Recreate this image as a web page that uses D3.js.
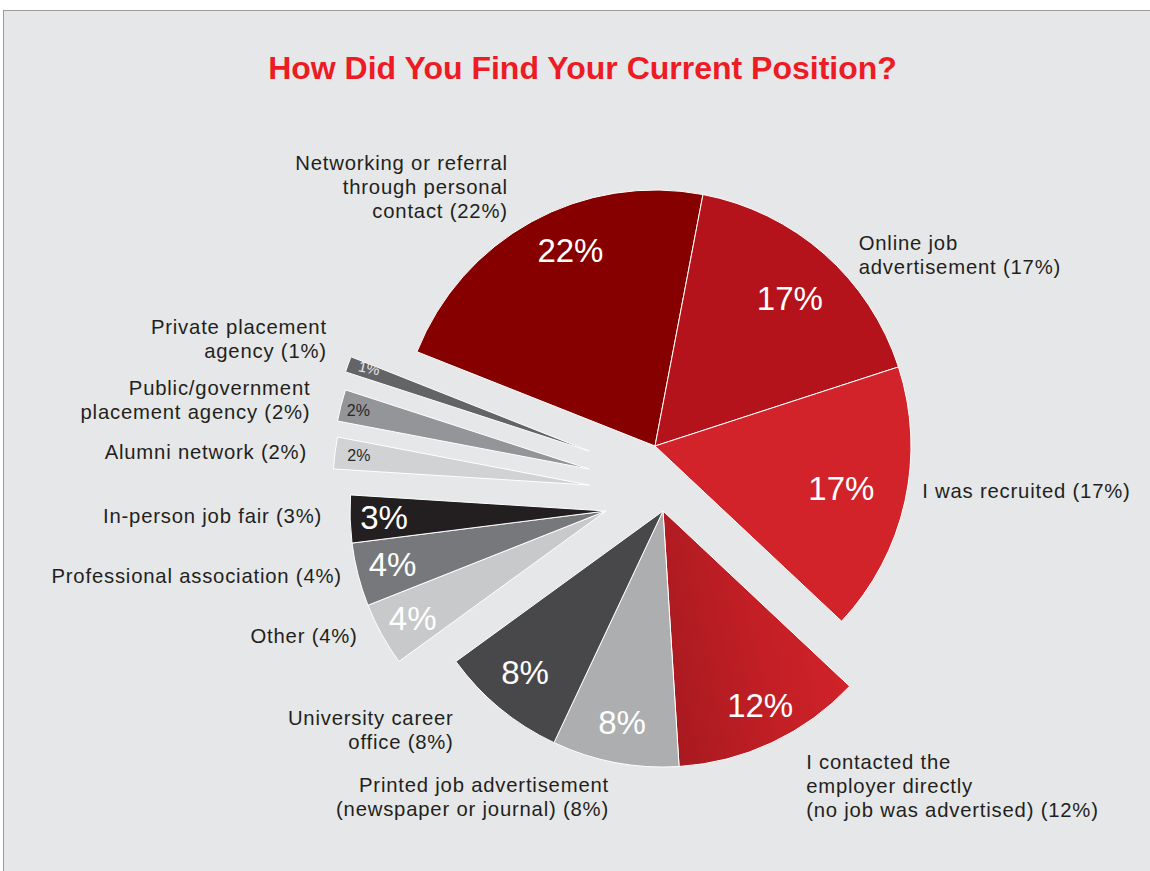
<!DOCTYPE html>
<html>
<head>
<meta charset="utf-8">
<script src="https://cdn.jsdelivr.net/npm/d3@7"></script>
<style>
  html, body { margin: 0; padding: 0; background: #ffffff; }
  svg { display: block; font-family: "Liberation Sans", Arial, Helvetica, sans-serif; }
</style>
</head>
<body>
<svg id="chart" width="1150" height="871"></svg>
<script>
// Survey answers, clockwise from the top-left slice
const categories = [
  "Networking or referral through personal contact",
  "Online job advertisement",
  "I was recruited",
  "I contacted the employer directly (no job was advertised)",
  "Printed job advertisement (newspaper or journal)",
  "University career office",
  "Other",
  "Professional association",
  "In-person job fair",
  "Alumni network",
  "Public/government placement agency",
  "Private placement agency"
];
const values = [22, 17, 17, 12, 8, 8, 4, 4, 3, 2, 2, 1];

// Outer label text, broken into lines
const labelLines = [
  ["Networking or referral", "through personal", "contact (22%)"],
  ["Online job", "advertisement (17%)"],
  ["I was recruited (17%)"],
  ["I contacted the", "employer directly", "(no job was advertised) (12%)"],
  ["Printed job advertisement", "(newspaper or journal) (8%)"],
  ["University career", "office (8%)"],
  ["Other (4%)"],
  ["Professional association (4%)"],
  ["In-person job fair (3%)"],
  ["Alumni network (2%)"],
  ["Public/government", "placement agency (2%)"],
  ["Private placement", "agency (1%)"]
];

// ---- layout & style ----
const width = 1150, height = 871;
const cx = 655, cy = 446, radius = 256;
const startDeg = -68.4;

// how far each slice is pulled out of the pie [dx, dy]
const explode = [
  [0, 0], [0, 0], [0, 0],
  [8, 65], [8, 65], [8, 65],
  [-49, 65], [-49, 65], [-49, 65],
  [-66, 39], [-66, 23], [-66, 5]
];
// outer label anchor, polar from the slice tip [radius, degrees]
const labelPolar = [
  [298, 330.4], [279, 46.9], [271, 99.6], [310, 152.5],
  [291, 190.7], [303, 223.7], [278, 243.3], [272, 256.2],
  [284, 269.0], [284, 276.7], [287, 283.9], [285, 293.1]
];
// in-slice value label, polar from the slice tip [radius, degrees]
const valuePolar = [
  [213, 336.6], [200, 42.4], [191, 102.7], [217, 153.4],
  [215, 191.0], [212, 220.6], [221, 241.0], [220, 256.0],
  [222, 268.5], [232, 277.4], [238, 284.3], [235, 290.7]
];
const colors = [
  "#870000", "#b5131b", "#d2232a", "url(#grad12)",
  "#adaeb0", "#48484a", "#c8c9cb", "#77787b",
  "#231f20", "#d1d2d4", "#939598", "#636466"
];

const svg = d3.select("#chart");
const rad = d => d * Math.PI / 180;

// gradient for the "contacted the employer" slice
const defs = svg.append("defs");
const g12 = defs.append("linearGradient")
  .attr("id", "grad12")
  .attr("x1", 0).attr("y1", 0.6).attr("x2", 1).attr("y2", 0.3);
g12.append("stop").attr("offset", 0).attr("stop-color", "#a91a20");
g12.append("stop").attr("offset", 0.55).attr("stop-color", "#c51f26");
g12.append("stop").attr("offset", 1).attr("stop-color", "#d3232a");

// panel
svg.append("rect")
  .attr("x", 3.5).attr("y", 10.5)
  .attr("width", 1150).attr("height", 870)
  .attr("fill", "#e6e7e8")
  .attr("stroke", "#9b9b9b").attr("stroke-width", 1);

// title
svg.append("text")
  .attr("x", 582.5).attr("y", 79)
  .attr("text-anchor", "middle")
  .attr("fill", "#ed1c24")
  .attr("font-weight", "bold")
  .attr("font-size", 32)
  .text("How Did You Find Your Current Position?");

const pie = d3.pie()
  .value(d => d)
  .sort(null)
  .startAngle(rad(startDeg))
  .endAngle(rad(startDeg) + 2 * Math.PI);

const arcs = pie(values);
const arc = d3.arc().innerRadius(0).outerRadius(radius);

const slices = svg.append("g").selectAll("g.slice")
  .data(arcs)
  .join("g")
  .attr("class", "slice")
  .attr("transform", (d, i) => `translate(${cx + explode[i][0]},${cy + explode[i][1]})`);

slices.append("path")
  .attr("d", arc)
  .attr("fill", (d, i) => colors[i])
  .attr("stroke", "#ffffff")
  .attr("stroke-width", 1)
  .attr("stroke-linejoin", "miter");

// value labels inside the slices
slices.append("text")
  .attr("transform", (d, i) => {
    const [r, a] = valuePolar[i];
    const x = r * Math.sin(rad(a)), y = -r * Math.cos(rad(a));
    const rot = d.data < 2 ? 12 : 0;
    return `translate(${x},${y}) rotate(${rot})`;
  })
  .attr("text-anchor", "middle")
  .attr("dy", "0.36em")
  .attr("font-size", d => d.data < 2 ? 15 : (d.data === 2 ? 16 : 33))
  .attr("fill", (d, i) => d.data === 2 ? "#2a2728" : (d.data < 2 ? "#e8e8e8" : "#ffffff"))
  .text(d => d.data + "%");

// category labels outside the pie
const lineH = 24;
slices.each(function (d, i) {
  const [r, a] = labelPolar[i];
  const x = r * Math.sin(rad(a)), y = -r * Math.cos(rad(a));
  const lines = labelLines[i];
  const anchor = x < 0 ? "end" : "start";
  const first = y - (lines.length - 1) * lineH / 2 + 7;
  const t = d3.select(this).append("text")
    .attr("text-anchor", anchor)
    .attr("font-size", 20.3)
    .attr("letter-spacing", 0.8)
    .attr("fill", "#231f20");
  lines.forEach((ln, k) => {
    t.append("tspan")
      .attr("x", x)
      .attr("y", first + k * lineH)
      .text(ln);
  });
});
</script>
</body>
</html>
